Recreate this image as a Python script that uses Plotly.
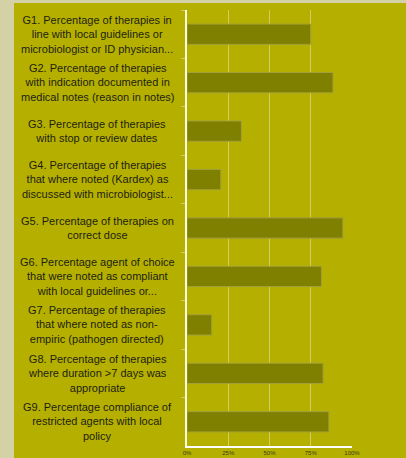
import plotly.graph_objects as go

# Indicator labels (top to bottom) and compliance values
labels = [
    "G1. Percentage of therapies in<br>line with local guidelines or<br>microbiologist or ID physician...",
    "G2. Percentage of therapies<br>with indication documented in<br>medical notes (reason in notes)",
    "G3. Percentage of therapies<br>with stop or review dates",
    "G4. Percentage of therapies<br>that where noted (Kardex) as<br>discussed with microbiologist...",
    "G5. Percentage of therapies on<br>correct dose",
    "G6. Percentage agent of choice<br>that were noted as compliant<br>with local guidelines or...",
    "G7. Percentage of therapies<br>that where noted as non-<br>empiric (pathogen directed)",
    "G8. Percentage of therapies<br>where duration >7 days was<br>appropriate",
    "G9. Percentage compliance of<br>restricted agents with local<br>policy",
]
codes = ["G1", "G2", "G3", "G4", "G5", "G6", "G7", "G8", "G9"]
values = [0.75, 0.885, 0.33, 0.205, 0.945, 0.815, 0.15, 0.825, 0.86]
tick_vals = [0, 0.25, 0.5, 0.75, 1.0]
tick_text = ["0%", "25%", "50%", "75%", "100%"]

W, H = 406, 458
ml, mr, mt, mb = 187, 54, 10, 12
pw, ph = W - ml - mr, H - mt - mb

fig = go.Figure(
    go.Bar(
        x=values,
        y=codes,
        orientation="h",
        width=0.42,
        marker=dict(color="#808000", line=dict(color="#A3A03A", width=1)),
    )
)

# multi-line category labels, centred like the original
for code, lab in zip(codes, labels):
    fig.add_annotation(
        x=(97 - ml) / pw, xref="paper", y=code, yref="y",
        text=lab, showarrow=False, align="center",
        xanchor="center", yanchor="middle",
        font=dict(family="Liberation Sans", size=11, color="#1e1e10"),
    )

# light frame on left and top edges
fig.add_shape(type="rect", xref="paper", yref="paper",
              x0=-ml / pw, x1=(14 - ml) / pw, y0=-mb / ph, y1=1 + mt / ph,
              fillcolor="#D4D1A6", line_width=0, layer="above")
fig.add_shape(type="rect", xref="paper", yref="paper",
              x0=-ml / pw, x1=1 + mr / pw, y0=1 + (mt - 3) / ph, y1=1 + mt / ph,
              fillcolor="#D4D1A6", line_width=0, layer="above")

fig.update_layout(
    width=W, height=H,
    margin=dict(l=ml, r=mr, t=mt, b=mb),
    paper_bgcolor="#B5B000",
    plot_bgcolor="#B5B000",
    showlegend=False,
    bargap=0.58,
)
fig.update_xaxes(
    range=[0, 1], tickvals=tick_vals, ticktext=tick_text,
    tickfont=dict(family="Liberation Sans", size=6, color="#3a3a10"),
    showgrid=True, gridcolor="#D2CD62", gridwidth=1,
    showline=True, linecolor="#FFFFFF", linewidth=2,
    zeroline=False, fixedrange=True, automargin=False,
)
fig.update_yaxes(
    categoryorder="array", categoryarray=codes, autorange="reversed",
    showticklabels=False, ticks="outside", ticklen=4, tickcolor="#D2CD62",
    tickson="boundaries",
    showline=True, linecolor="#FFFFE0", linewidth=2,
    showgrid=False, zeroline=False, automargin=False,
)

fig.write_html(
    "out.html",
    config={"displayModeBar": False},
    post_script="document.body.style.margin='0';"
                "document.body.style.overflow='hidden';"
                "document.body.style.background='#D4D1A6';",
)
